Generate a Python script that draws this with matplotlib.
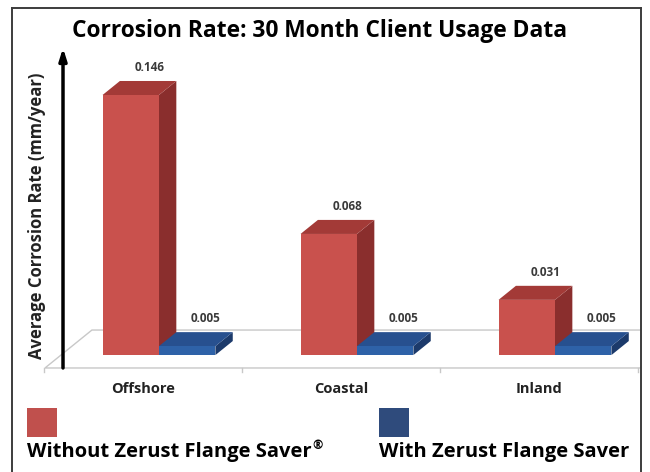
import matplotlib

matplotlib.use("Agg")
import matplotlib.pyplot as plt
from matplotlib.patches import Polygon, Rectangle

categories = ["Offshore", "Coastal", "Inland"]
without_saver = [0.146, 0.068, 0.031]
with_saver = [0.005, 0.005, 0.005]
series_labels = ["Without Zerust Flange Saver", "With Zerust Flange Saver"]
series_marks = ["\u00ae", ""]
title = "Corrosion Rate: 30 Month Client Usage Data"
ylabel = "Average Corrosion Rate (mm/year)"

plt.rcParams["font.family"] = ["Open Sans", "DejaVu Sans"]

W, H = 650, 472
RED = {"front": "#c9514d", "top": "#a33a37", "side": "#8a2e2d", "legend": "#c0504d"}
BLUE = {"front": "#2e62a8", "top": "#27508f", "side": "#1c3a6b", "legend": "#2f4b7c"}

# oblique "3d" projection: full floor depth in data units
DX, DY = 0.237, 0.0213
D0, D1 = 0.34, 0.71  # depth range occupied by the bars
BAR_W = 0.285


def shift(x, y, d):
    return (x + d * DX, y + d * DY)


def bar3d(ax, x0, h, colors):
    x1 = x0 + BAR_W
    front = [shift(x0, 0, D0), shift(x1, 0, D0), shift(x1, h, D0), shift(x0, h, D0)]
    top = [shift(x0, h, D0), shift(x1, h, D0), shift(x1, h, D1), shift(x0, h, D1)]
    side = [shift(x1, 0, D0), shift(x1, 0, D1), shift(x1, h, D1), shift(x1, h, D0)]
    ax.add_patch(Polygon(side, closed=True, facecolor=colors["side"], edgecolor="none", zorder=3))
    ax.add_patch(Polygon(top, closed=True, facecolor=colors["top"], edgecolor="none", zorder=3))
    ax.add_patch(Polygon(front, closed=True, facecolor=colors["front"], edgecolor="none", zorder=3))
    ax.annotate(f"{h:.3f}", xy=shift(x0 + BAR_W / 2, h, D1), xytext=(1, 5),
                textcoords="offset points", ha="center", va="bottom",
                fontsize=8.5, fontweight="bold", color="#3a3a3a", zorder=5)


fig = plt.figure(figsize=(W / 100, H / 100), dpi=100)
ax = fig.add_axes([12 / W, 0, (641 - 12) / W, (472 - 8) / H])
ax.set_xlim(-0.6616, 2.515)
ax.set_ylim(-0.0584, 0.2021)
ax.set_xticks([])
ax.set_yticks([])
for name in ("left", "top", "right"):
    ax.spines[name].set_color("#3c3c3c")
    ax.spines[name].set_linewidth(1.4)
ax.spines["bottom"].set_visible(False)

# floor
fl, fr = -0.495, 2.51
floor = [(fl, 0), (fr, 0), shift(fr, 0, 1), shift(fl, 0, 1)]
ax.add_patch(Polygon(floor, closed=True, facecolor="white", edgecolor="#c8c8c8", lw=1.0, zorder=1))
for b in [i - 0.5 for i in range(len(categories) + 1)]:
    ax.plot([b, b], [0, -0.0025], color="#c8c8c8", lw=1.0, zorder=1)

for i, cat in enumerate(categories):
    bar3d(ax, i - BAR_W, without_saver[i], RED)
    bar3d(ax, i, with_saver[i], BLUE)
    ax.text(i, -0.0118, cat, ha="center", va="center", fontsize=10.5,
            fontweight="bold", color="#222222")

# y axis arrow
ax.annotate("", xy=(-0.404, 0.1797), xytext=(-0.404, 0.0),
            arrowprops=dict(arrowstyle="-|>,head_length=0.7,head_width=0.22",
                            lw=2.5, color="black", shrinkA=0, shrinkB=0), zorder=4)

fig.text(37 / W, 1 - 216 / H, ylabel, rotation=90, ha="center", va="center",
         fontsize=12, fontweight="bold", color="#222222")
fig.text(320 / W, 1 - 31 / H, title, ha="center", va="center",
         fontsize=16.4, fontweight="bold", color="black")

# legend
renderer = fig.canvas.get_renderer()
for x_px, lab, mark, colors in [(27, series_labels[0], series_marks[0], RED),
                                (379, series_labels[1], series_marks[1], BLUE)]:
    fig.patches.append(Rectangle((x_px / W, (H - 437) / H), 30 / W, 29 / H,
                                 transform=fig.transFigure, facecolor=colors["legend"],
                                 edgecolor="none"))
    t = fig.text(x_px / W, (H - 457) / H, lab, ha="left", va="baseline",
                 fontsize=14.5, fontweight="bold", color="black")
    if mark:
        x_end = t.get_window_extent(renderer).x1
        fig.text((x_end + 1) / W, (H - 449) / H, mark, ha="left", va="baseline",
                 fontsize=9, fontweight="bold", color="black")

fig.savefig("out.png", dpi=100)
